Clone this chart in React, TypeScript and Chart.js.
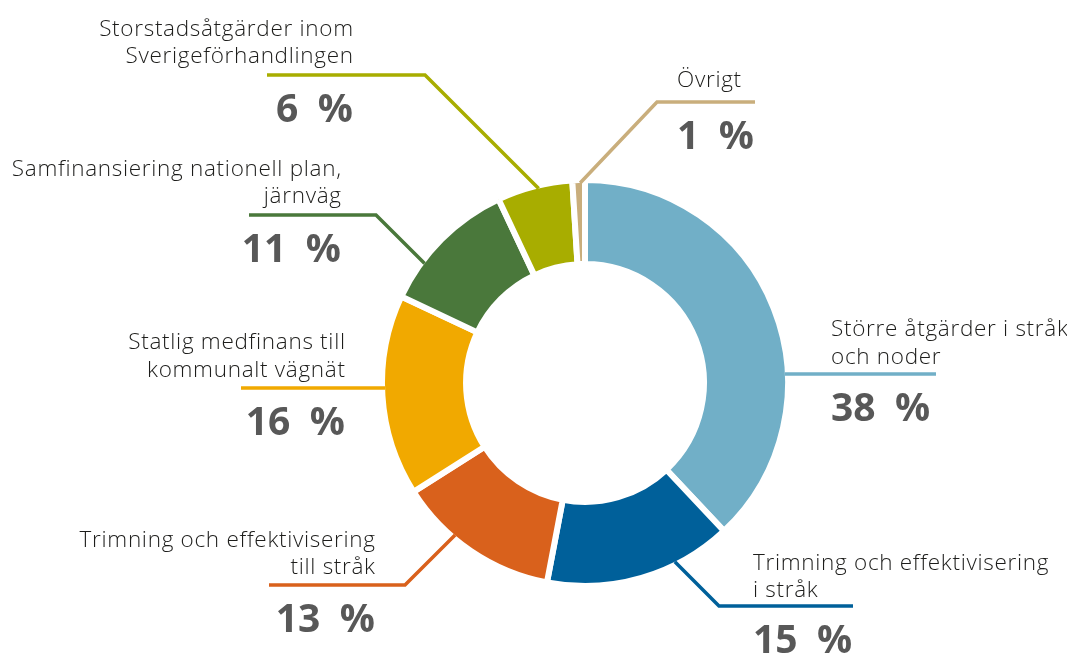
import React, { useEffect, useRef } from 'react';
import { Chart, registerables } from 'chart.js';

Chart.register(...registerables);

// ---- data ----
const categories: string[][] = [
  ['Större åtgärder i stråk', 'och noder'],
  ['Trimning och effektivisering', 'i stråk'],
  ['Trimning och effektivisering', 'till stråk'],
  ['Statlig medfinans till', 'kommunalt vägnät'],
  ['Samfinansiering nationell plan,', 'järnväg'],
  ['Storstadsåtgärder inom', 'Sverigeförhandlingen'],
  ['Övrigt'],
];
const shares: number[] = [38, 15, 13, 16, 11, 6, 1];
const shareLabels: string[] = ['38 %', '15 %', '13 %', '16 %', '11 %', '6 %', '1 %'];
const sliceColors: string[] = ['#71afc7', '#00609a', '#d9611c', '#f1a900', '#4a783b', '#a8ad00', '#c9ae7c'];

// ---- label layout (relative to doughnut centre) ----
type Leader = {
  angle: number; // where the leader touches the ring, degrees clockwise from top
  elbow: [number, number] | null;
  endX: number;
  textX: number;
  align: CanvasTextAlign;
  textGap: number;
};
const leaderLayout: Leader[] = [
  { angle: 87.4, elbow: null, endX: 351, textX: 246, align: 'left', textGap: 10 },
  { angle: 153.3, elbow: [134, 223], endX: 268, textX: 168, align: 'left', textGap: 9 },
  { angle: 220.5, elbow: [-180, 202], endX: -316, textX: -210, align: 'right', textGap: 11 },
  { angle: 268.6, elbow: null, endX: -344, textX: -240, align: 'right', textGap: 11 },
  { angle: 306.7, elbow: [-209, -168], endX: -336, textX: -244, align: 'right', textGap: 12 },
  { angle: 346.6, elbow: [-160, -308], endX: -318, textX: -232, align: 'right', textGap: 12 },
  { angle: 358.6, elbow: [72, -281], endX: 170, textX: 92, align: 'left', textGap: 15 },
];

const BORDER = 6;
const LABEL_FONT = '300 22.5px "Open Sans", "Noto Sans", sans-serif';
const LABEL_SPACING = 0.7;
const PCT_FONT = 'bold 39px "Open Sans", "Noto Sans", sans-serif';
const LINE_HEIGHT = 27.5;
const PCT_OFFSET = 47;

const leaderPlugin = {
  id: 'leaderLabels',
  afterDatasetsDraw(chart: any) {
    const meta = chart.getDatasetMeta(0);
    const first = meta.data[0] as any;
    if (!first) return;
    const cx = first.x;
    const cy = first.y;
    const r = first.outerRadius - BORDER / 2;
    const ctx: any = chart.ctx;
    ctx.save();
    leaderLayout.forEach((lay, i) => {
      const a = (lay.angle * Math.PI) / 180;
      const px = cx + r * Math.sin(a);
      const py = cy - r * Math.cos(a);
      const ex = lay.elbow ? cx + lay.elbow[0] : px;
      const ey = lay.elbow ? cy + lay.elbow[1] : py;
      ctx.strokeStyle = sliceColors[i];
      ctx.lineWidth = 3.5;
      ctx.lineJoin = 'miter';
      ctx.lineCap = 'butt';
      ctx.beginPath();
      ctx.moveTo(px, py);
      ctx.lineTo(ex, ey);
      ctx.lineTo(cx + lay.endX, ey);
      ctx.stroke();

      const tx = cx + lay.textX;
      const lines = categories[i];
      const right = lay.align === 'right';
      ctx.textAlign = lay.align;
      ctx.textBaseline = 'alphabetic';
      ctx.fillStyle = '#1d1d1b';
      ctx.font = LABEL_FONT;
      ctx.letterSpacing = `${LABEL_SPACING}px`;
      lines.forEach((line, k) => {
        const y = ey - lay.textGap - LINE_HEIGHT * (lines.length - 1 - k);
        ctx.fillText(line, tx + (right ? LABEL_SPACING : 0), y);
      });
      ctx.letterSpacing = '0px';
      ctx.fillStyle = '#585858';
      ctx.font = PCT_FONT;
      ctx.fillText(shareLabels[i].replace(' ', '\u2002'), tx, ey + PCT_OFFSET);
    });
    ctx.restore();
  },
};

export default function App() {
  const ref = useRef<HTMLCanvasElement | null>(null);
  useEffect(() => {
    if (!ref.current) return;
    const chart = new Chart(ref.current, {
      type: 'doughnut',
      data: {
        labels: categories,
        datasets: [
          {
            data: shares,
            backgroundColor: sliceColors,
            borderColor: '#ffffff',
            borderWidth: BORDER,
            borderJoinStyle: 'miter',
            hoverOffset: 0,
          } as any,
        ],
      },
      options: {
        responsive: false,
        animation: false,
        radius: 203,
        cutout: '58.6%',
        rotation: 0,
        layout: { padding: { left: 103, top: 109, right: 0, bottom: 0 } },
        plugins: {
          legend: { display: false },
          tooltip: { enabled: false },
        },
        events: [],
      } as any,
      plugins: [leaderPlugin],
    });
    return () => chart.destroy();
  }, []);
  return (
    <div style={{ position: 'absolute', left: 0, top: 0, width: 1067, height: 657, background: '#fff' }}>
      <canvas ref={ref} width={1067} height={657} style={{ display: 'block' }} />
    </div>
  );
}
